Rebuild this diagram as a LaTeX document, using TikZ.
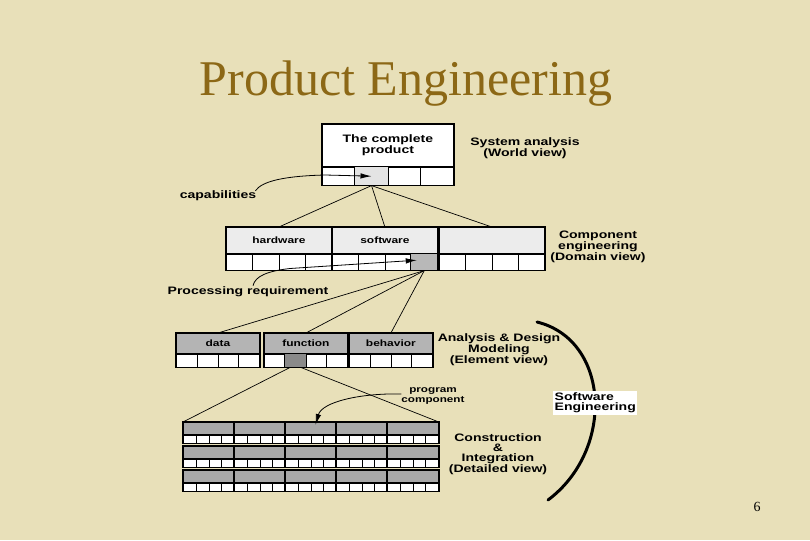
\documentclass[tikz,border=0pt]{standalone}
\usepackage{fontspec}
\setmainfont{Liberation Serif}
\newfontfamily\lab[FakeStretch=1.3]{Liberation Sans}
\usetikzlibrary{arrows.meta,calc}
\definecolor{bgc}{RGB}{232,224,185}
\definecolor{titlec}{RGB}{140,104,22}
\definecolor{ghdrA}{RGB}{255,255,255}
\definecolor{gcellA}{RGB}{228,228,228}
\definecolor{ghdrB}{RGB}{236,236,236}
\definecolor{gcellB}{RGB}{184,184,184}
\definecolor{ghdrC}{RGB}{180,180,180}
\definecolor{gcellC}{RGB}{138,138,138}
\definecolor{ghdrD}{RGB}{168,168,168}
\tikzset{
  hdr/.style={draw=black, line width=0.8pt, inner sep=0pt, align=center, font=\lab\bfseries\fontsize{9.2}{10}\selectfont},
  toptxt/.style={font=\lab\bfseries\fontsize{10.8}{11}\selectfont},
  cellst/.style={draw=black, line width=0.8pt, fill=white, inner sep=0pt},
  outer/.style={draw=black, line width=1.4pt},
  lbl/.style={font=\lab\bfseries\fontsize{10.8}{10}\selectfont, align=center, inner sep=0pt},
  smalllbl/.style={font=\lab\bfseries\fontsize{9}{10}\selectfont, align=center, inner sep=0pt},
  conn/.style={line width=0.7pt, draw=black},
  arr/.style={line width=0.8pt, draw=black, -{Latex[length=11pt,width=5.5pt]}},
  titlest/.style={font=\fontsize{50}{50}\selectfont, text=titlec, inner sep=0pt},
}
\newcommand\pebox[8]{%
  \node[hdr, #7, minimum width=#4pt, minimum height=#5pt, anchor=north west] (#1) at (#2,#3) {#8};
  \foreach \i in {1,2,3,4}{%
    \node[cellst, minimum width=#4pt/4, minimum height=#6pt, anchor=north west] (#1c\i) at ([xshift={(\i-1)*#4/4}]#1.south west) {};
  }%
  \draw[outer] (#1.north west) rectangle (#1c4.south east);
}
\begin{document}
\begin{tikzpicture}[x=1pt,y=-1pt]
\fill[bgc] (0,0) rectangle (810,540);
\useasboundingbox (0,0) rectangle (810,540);

\node[titlest, anchor=base] (title) at (406,96) {Product Engineering};

% level 1
\pebox{top}{322}{124}{131}{42}{18}{fill=ghdrA, toptxt}{The complete\\product}
\draw[cellst, fill=gcellA] (topc2.south west) rectangle (topc2.north east);
\draw[outer] (top.north west) rectangle (topc4.south east);

% level 2
\pebox{hw}{226}{227}{105}{26}{16}{fill=ghdrB}{hardware}
\pebox{sw}{332}{227}{105}{26}{16}{fill=ghdrB}{software}
\pebox{ce}{439}{227}{105}{26}{16}{fill=ghdrB}{}
\draw[cellst, fill=gcellB] (swc4.south west) rectangle (swc4.north east);
\draw[outer] (sw.north west) rectangle (swc4.south east);

% level 3
\pebox{da}{176}{333}{83}{20}{13}{fill=ghdrC}{data}
\pebox{fn}{264}{333}{83}{20}{13}{fill=ghdrC}{function}
\pebox{be}{349}{333}{83}{20}{13}{fill=ghdrC}{behavior}
\draw[cellst, fill=gcellC] (fnc2.south west) rectangle (fnc2.north east);
\draw[outer] (fn.north west) rectangle (fnc4.south east);

% level 4
\foreach \r/\yy in {1/422,2/446,3/470}{
  \foreach \b in {1,...,5}{
    \pgfmathsetmacro\xx{183+51*(\b-1)}
    \pebox{r\r-\b}{\xx}{\yy}{51}{12}{8}{fill=ghdrD}{}
  }
}

% connectors
\draw[conn] (topc2.south) -- (hw.north);
\draw[conn] (topc2.south) -- (sw.north);
\draw[conn] (topc2.south) -- (ce.north);
\draw[conn] (swc4.south) -- (da.north);
\draw[conn] (swc4.south) -- (fn.north);
\draw[conn] (swc4.south) -- (be.north);
\draw[conn] ([xshift=5pt]fnc2.south west) -- (r1-1.north west);
\draw[conn] ([xshift=-5pt]fnc2.south east) -- (r1-5.north east);

% labels
\node[lbl] (sysan) at (525,148) {System analysis\\(World view)};
\node[lbl] (comp) at (598,247) {Component\\engineering\\(Domain view)};
\node[lbl] (anad) at (499,350) {Analysis \& Design\\Modeling\\(Element view)};
\node[lbl] (cons) at (498,454) {Construction\\\&\\Integration\\(Detailed view)};
\node[smalllbl] (prog) at (433,396) {program\\component};
\node[lbl] (cap) at (218,196) {capabilities};
\node[lbl] (proc) at (248,292) {Processing requirement};

% curved arrows
\draw[arr] ([xshift=-1pt]cap.north east) .. controls (262,181) and (285,176) .. (325,175) -- (topc2.center);
\draw[arr] ([xshift=5pt,yshift=1pt]proc.north) .. controls (255,276) and (268,271) .. (290,268.5) -- ([xshift=6pt,yshift=2pt]swc4.west);
\draw[arr] ([yshift=2pt]prog.west) .. controls (360,393) and (322,402) .. ([xshift=4.5pt,yshift=-3pt]r1-3.north);

% bracket
\draw[line width=3pt, line cap=round] (537,322) .. controls (610,340) and (615,450) .. (548,500);
\node[lbl, fill=white, align=left, anchor=west, inner sep=1.5pt] (se) at (553,403) {Software\\Engineering};

\node[font=\fontsize{14}{14}\selectfont, inner sep=0pt] (pg) at (757,507) {6};
\end{tikzpicture}
\end{document}
